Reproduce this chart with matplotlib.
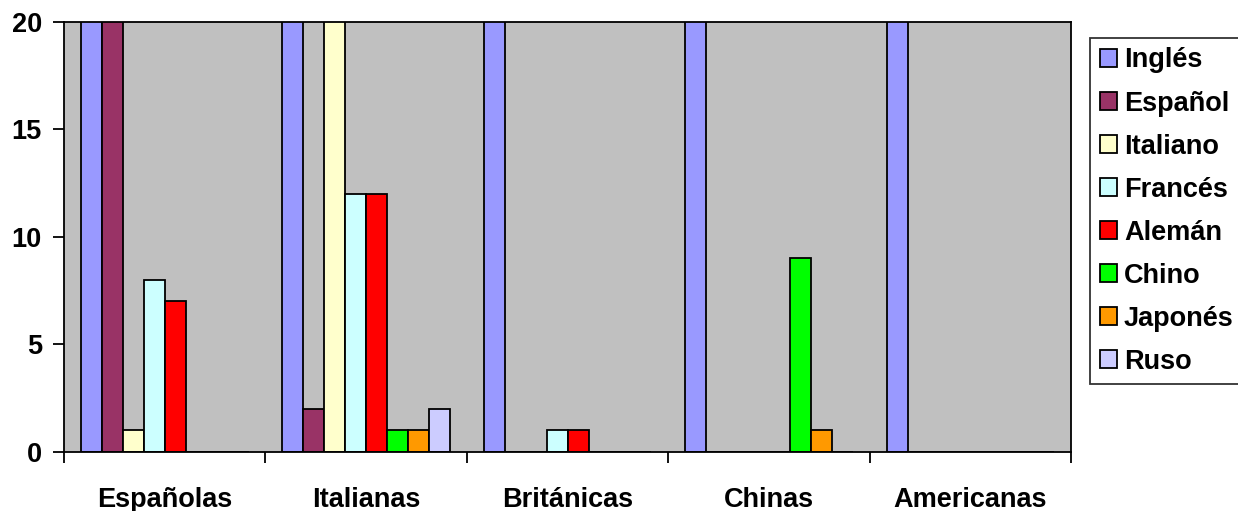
import numpy as np
import matplotlib.pyplot as plt
from matplotlib.ticker import FixedLocator

plt.rcParams['font.family'] = ['Liberation Sans', 'DejaVu Sans']
plt.rcParams['font.weight'] = 'bold'

# datos
grupos = ["Españolas", "Italianas", "Británicas", "Chinas", "Americanas"]
idiomas = ["Inglés", "Español", "Italiano", "Francés", "Alemán", "Chino", "Japonés", "Ruso"]
colores = ["#9999FF", "#993366", "#FFFFCC", "#CCFFFF", "#FF0000", "#00FF00", "#FF9900", "#CCCCFF"]

# los valores > 20 salen cortados en el original
ingles = [25, 25, 25, 25, 25]
espanol = [25, 2, 0, 0, 0]
italiano = [1, 25, 0, 0, 0]
frances = [8, 12, 1, 0, 0]
aleman = [7, 12, 1, 0, 0]
chino = [0, 1, 0, 9, 0]
japones = [0, 1, 0, 1, 0]
ruso = [0, 2, 0, 0, 0]
series = [ingles, espanol, italiano, frances, aleman, chino, japones, ruso]

fig = plt.figure(figsize=(12.38, 5.11), dpi=100)
ax = fig.add_axes([0.0517, 0.1155, 0.8135, 0.8415])
ax.set_facecolor("#C0C0C0")

x = np.arange(len(grupos))
w = 0.104
for i in range(len(series)):
    off = (i - 3.5) * w
    vals = np.array(series[i], dtype=float)
    ax.bar(x + off, vals, w, color=colores[i], edgecolor="black", linewidth=1.3,
           label=idiomas[i], zorder=2)

ax.set_xlim(-0.5, 4.5)
ax.set_ylim(0, 20)
ax.set_yticks([0, 5, 10, 15, 20])
ax.tick_params(axis='y', direction='out', length=8, width=1.3, pad=8, labelsize=19.5)
ax.set_xticks(x)
ax.set_xticklabels(grupos)
ax.xaxis.set_minor_locator(FixedLocator(np.arange(-0.5, 5, 1)))
ax.tick_params(axis='x', which='major', length=0, pad=25, labelsize=19.5)
ax.tick_params(axis='x', which='minor', direction='out', length=8, width=1.3)
for s in ax.spines.values():
    s.set_linewidth(1.3)

leg = fig.legend(loc='upper left', bbox_to_anchor=(0.8805, 0.9256), fontsize=19.5,
                 frameon=True, fancybox=False, edgecolor="black", borderpad=0.35,
                 handlelength=0.65, handleheight=0.65, handletextpad=0.25,
                 labelspacing=0.63, borderaxespad=0)
leg.get_frame().set_linewidth(1.3)

fig.savefig("out.png", dpi=100)
